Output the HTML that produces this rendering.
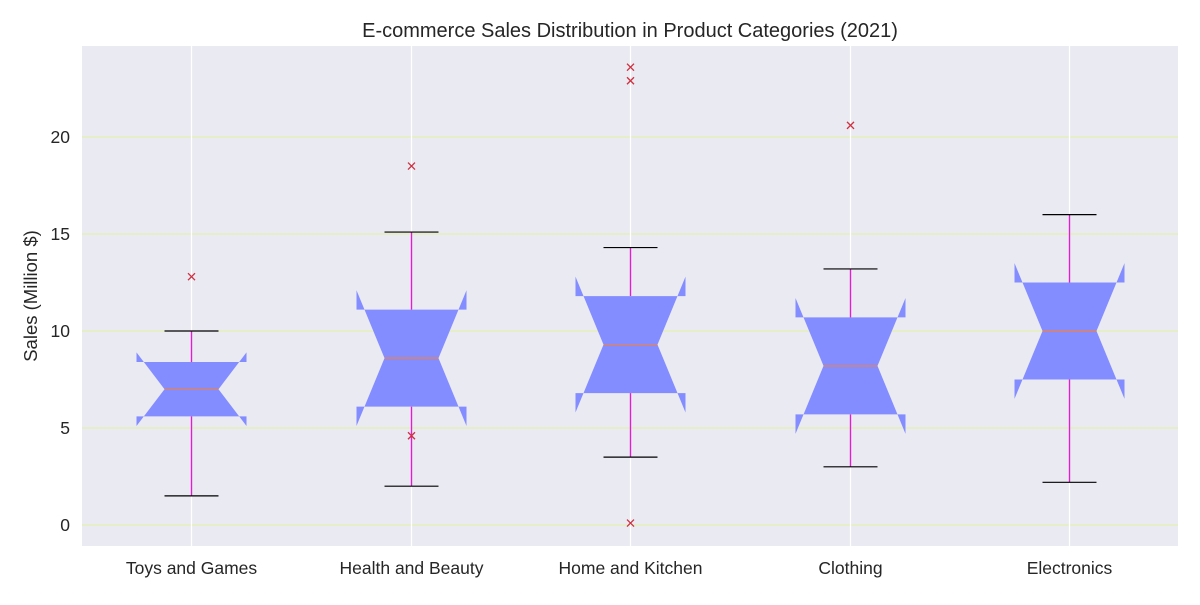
<!DOCTYPE html>
<html><head><meta charset="utf-8"><style>
body{margin:0;background:#fff;}
svg text{font-family:"Liberation Sans",Arial,sans-serif;fill:#262626;}
</style></head><body>
<svg id="chart" width="1200" height="600" xmlns="http://www.w3.org/2000/svg">
<rect x="82" y="46" width="1096" height="500" fill="#eaeaf2"/>
<g id="grid"></g><g id="boxes"></g><g id="axes"></g>
<text x="630" y="37" font-size="20" text-anchor="middle">E-commerce Sales Distribution in Product Categories (2021)</text>
<text x="37" y="296" font-size="18.5" text-anchor="middle" transform="rotate(-90 37 296)">Sales (Million $)</text>
</svg>
<script>
const categories=["Toys and Games","Health and Beauty","Home and Kitchen","Clothing","Electronics"];
const whiskerLo=[1.5,2.0,3.5,3.0,2.2];
const q1=[5.6,6.1,6.8,5.7,7.5];
const median=[7.0,8.6,9.3,8.2,10.0];
const q3=[8.4,11.1,11.8,10.7,12.5];
const whiskerHi=[10.0,15.1,14.3,13.2,16.0];
const notchLo=[5.1,5.1,5.8,4.7,6.5];
const notchHi=[8.9,12.1,12.8,11.7,13.5];
const outliers=[[12.8],[18.5,4.6],[23.6,22.9,0.1],[20.6],[]];
const yTicks=[0,5,10,15,20];
const NS="http://www.w3.org/2000/svg";
const y=v=>525-v*19.4;
const x=i=>Math.round(191+i*219.5)+0.5;
function mk(tag,attrs,parent){const e=document.createElementNS(NS,tag);for(const k in attrs)e.setAttribute(k,attrs[k]);parent.appendChild(e);return e;}
const grid=document.getElementById('grid'),boxes=document.getElementById('boxes'),axes=document.getElementById('axes');
yTicks.forEach(t=>{
  const l=mk('line',{x1:82,x2:1178,y1:y(t),y2:y(t),stroke:'#e3f2a0','stroke-width':1},grid);
  
  
  const tx=mk('text',{x:70,y:y(t)+6,'font-size':17.5,'text-anchor':'end'},axes);tx.textContent=t;
  
  
});
categories.forEach((c,i)=>{
  const cx=x(i);
  const vg=mk('line',{x1:cx,x2:cx,y1:46,y2:546,stroke:'#fff','stroke-width':1.2},grid);
  
  
  const g=mk('g',{},boxes);
  
  
  const W=55,N=27;
  const d=`M${cx-W},${y(q1[i])} L${cx-W},${y(notchLo[i])} L${cx-N},${y(median[i])} L${cx-W},${y(notchHi[i])} L${cx-W},${y(q3[i])} L${cx+W},${y(q3[i])} L${cx+W},${y(notchHi[i])} L${cx+N},${y(median[i])} L${cx+W},${y(notchLo[i])} L${cx+W},${y(q1[i])} Z`;
  mk('path',{d:d,fill:'#848dff',stroke:'none'},g);
  mk('line',{x1:cx,x2:cx,y1:y(q1[i]),y2:y(whiskerLo[i]),stroke:'#e020d0','stroke-width':1.4},g);
  mk('line',{x1:cx,x2:cx,y1:y(q3[i]),y2:y(whiskerHi[i]),stroke:'#e020d0','stroke-width':1.4},g);
  mk('line',{x1:cx-N,x2:cx+N,y1:y(whiskerLo[i]),y2:y(whiskerLo[i]),stroke:'#000','stroke-width':1.2},g);
  mk('line',{x1:cx-N,x2:cx+N,y1:y(whiskerHi[i]),y2:y(whiskerHi[i]),stroke:'#000','stroke-width':1.2},g);
  mk('line',{x1:cx-N,x2:cx+N,y1:y(median[i]),y2:y(median[i]),stroke:'#f08040','stroke-width':1.2},g);
  outliers[i].forEach(o=>{
    const oy=y(o),s=3.5;
    mk('path',{d:`M${cx-s},${oy-s}L${cx+s},${oy+s}M${cx-s},${oy+s}L${cx+s},${oy-s}`,stroke:'#d03040','stroke-width':1.3},g);
  });
  const tx=mk('text',{x:cx,y:574,'font-size':17.5,'text-anchor':'middle'},axes);tx.textContent=c;
  
  
});
</script>
</body></html>
